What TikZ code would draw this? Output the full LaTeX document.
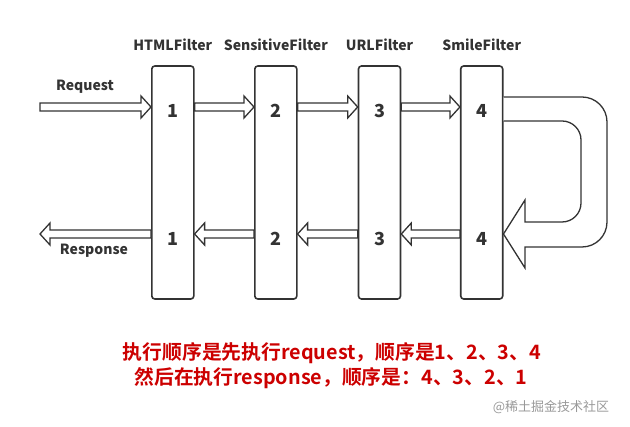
\documentclass[tikz,border=0pt]{standalone}
\usepackage{fontspec}
\setmainfont{Noto Sans CJK SC}
\newfontfamily\cjkbold{Noto Sans CJK SC Bold}
\usetikzlibrary{calc}
\definecolor{inkgray}{HTML}{333333}
\definecolor{notered}{HTML}{CC0000}
\tikzset{
    filterbar/.style={draw=inkgray,line width=1.6pt,rounded corners=3pt,minimum width=42pt,minimum height=233pt,inner sep=0pt},
    stagenum/.style={text=inkgray,font=\fontsize{18}{18}\selectfont\bfseries},
    filtername/.style={text=inkgray,font=\fontsize{14}{14}\selectfont\bfseries},
    flowline/.style={draw=inkgray,line width=1.3pt,fill=white,line join=miter},
}
% hollow block arrow from #1 to #2
\newcommand{\flowarrow}[2]{%
  \draw[flowline] ($(#1)+(0,-4)$) -- ($(#2)!10pt!(#1)+(0,-4)$) -- ($(#2)!10pt!(#1)+(0,-11)$)
     -- (#2) -- ($(#2)!10pt!(#1)+(0,11)$) -- ($(#2)!10pt!(#1)+(0,4)$) -- ($(#1)+(0,4)$) -- cycle;}

\begin{document}
\begin{tikzpicture}[x=1pt,y=-1pt]
    \useasboundingbox (0,0) rectangle (630,427);
    \coordinate (top) at (0,107);
    \coordinate (bot) at (0,234);
    \coordinate (req) at (40,107);
    \coordinate (resp) at (40,234);
    % filters
    \foreach \i/\x/\name in {1/172.8/HTMLFilter,2/275.8/SensitiveFilter,3/379.5/URLFilter,4/481.7/SmileFilter}{
        \node[filterbar] (f\i) at (\x,182.5) {};
        \node[filtername] (t\i) at (\x,45) {\name};
        \node[stagenum] (n\i) at (\x,111) {\i};
        \node[stagenum] (m\i) at (\x,239) {\i};
    }
    % request
    \flowarrow{req}{f1.west |- top}
    \flowarrow{f1.east |- top}{f2.west |- top}
    \flowarrow{f2.east |- top}{f3.west |- top}
    \flowarrow{f3.east |- top}{f4.west |- top}
    % response
    \flowarrow{f4.west |- bot}{f3.east |- bot}
    \flowarrow{f3.west |- bot}{f2.east |- bot}
    \flowarrow{f2.west |- bot}{f1.east |- bot}
    \flowarrow{f1.west |- bot}{resp}
    \node[filtername] (reqlabel) at (85,87) {Request};
    \node[filtername] (resplabel) at (94,251) {Response};
    % turn around
    \draw[flowline] ($(f4.east |- top)+(0,-10)$) -- (582,97) to[out=0,in=90] (607,122) -- (607,222)
        to[out=-90,in=0] (582,247) -- (525,247) -- (525,268) -- (f4.east |- bot) -- (525,200)
        -- (525,222) -- (562,222) to[out=0,in=-90] (581,203) -- (581,140) to[out=90,in=0] (562,121)
        -- ($(f4.east |- top)+(0,14)$);
    % notes
    \node[text=notered,font=\cjkbold\fontsize{19.8}{19.8}\selectfont] (note1) at (332,353) {执行顺序是先执行request，顺序是1、2、3、4};
    \node[text=notered,font=\cjkbold\fontsize{19.8}{19.8}\selectfont] (note2) at (331,378) {然后在执行response，顺序是：4、3、2、1};
    \node[text=black!40,font=\fontsize{13}{13}\selectfont] (mark) at (551,407) {@稀土掘金技术社区};
\end{tikzpicture}
\end{document}
